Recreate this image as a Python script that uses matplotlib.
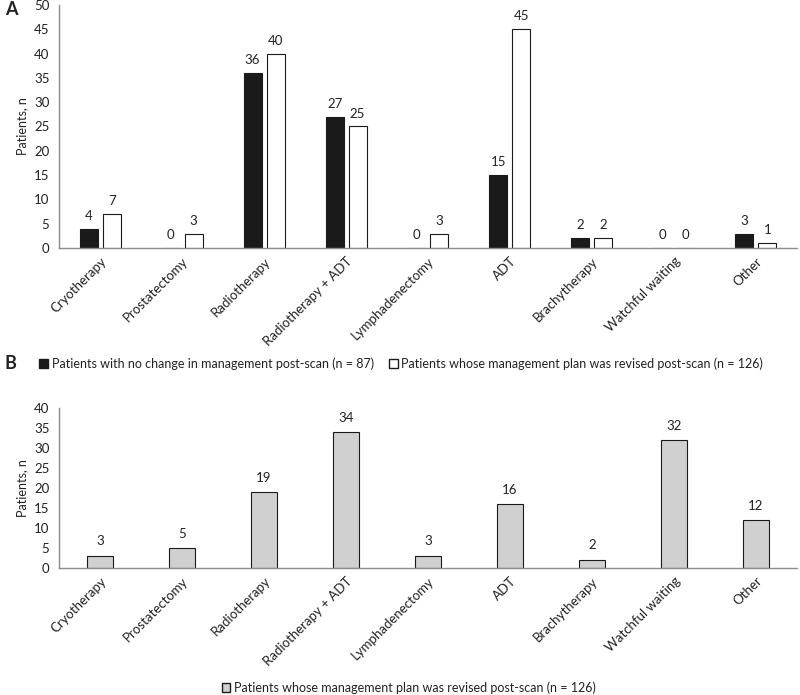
import matplotlib
matplotlib.use("Agg")
import matplotlib.pyplot as plt
from matplotlib.patches import Patch
import numpy as np

categories = ["Cryotherapy", "Prostatectomy", "Radiotherapy", "Radiotherapy + ADT",
              "Lymphadenectomy", "ADT", "Brachytherapy", "Watchful waiting", "Other"]
no_change = [4, 0, 36, 27, 0, 15, 2, 0, 3]
revised_a = [7, 3, 40, 25, 3, 45, 2, 0, 1]
revised_b = [3, 5, 19, 34, 3, 16, 2, 32, 12]

label_no_change = "Patients with no change in management post-scan (n = 87)"
label_revised = "Patients whose management plan was revised post-scan (n = 126)"

plt.rcParams['font.family'] = ['Lato', 'DejaVu Sans']
FS = 9.5
LFS = 9.0
TXT = "#222222"
SPINE = "#8c8c8c"

fig = plt.figure(figsize=(8, 6.95), dpi=100)
axA = fig.add_axes([0.074, 0.643, 0.922, 0.350])
axB = fig.add_axes([0.074, 0.183, 0.922, 0.230])

x = np.arange(len(categories))

def style(ax, ymax, step):
    ax.set_xlim(-0.5, len(categories) - 0.5)
    ax.set_ylim(0, ymax)
    ax.set_yticks(np.arange(0, ymax + 1, step))
    for s in ["top", "right"]:
        ax.spines[s].set_visible(False)
    for s in ["left", "bottom"]:
        ax.spines[s].set_color(SPINE)
        ax.spines[s].set_linewidth(1.0)
    ax.tick_params(axis="y", length=0, labelsize=FS, colors=TXT, pad=7)
    ax.tick_params(axis="x", length=0, labelsize=FS, colors=TXT, pad=5)
    ax.set_xticks(x)
    ax.set_xticklabels(categories, rotation=45, ha="right", rotation_mode="anchor",
                       fontsize=FS, color=TXT)
    ax.set_ylabel("Patients, n", fontsize=FS - 0.5, color=TXT, labelpad=4)

# Panel A
w = 0.22
off = 0.14
bA1 = axA.bar(x - off, no_change, w, color="#1a1a1a", edgecolor="#1a1a1a", linewidth=0.8)
bA2 = axA.bar(x + off, revised_a, w, color="white", edgecolor="#1a1a1a", linewidth=0.8)
style(axA, 50, 5)
for bars in (bA1, bA2):
    for b in bars:
        axA.annotate(f"{int(b.get_height())}", (b.get_x() + b.get_width() / 2, b.get_height()),
                     xytext=(0, 5), textcoords="offset points", ha="center", va="bottom",
                     fontsize=FS, color=TXT)

# Panel B
bB = axB.bar(x, revised_b, 0.32, color="#d0d0d0", edgecolor="#1a1a1a", linewidth=0.8)
style(axB, 40, 5)
for b in bB:
    axB.annotate(f"{int(b.get_height())}", (b.get_x() + b.get_width() / 2, b.get_height()),
                 xytext=(0, 6), textcoords="offset points", ha="center", va="bottom",
                 fontsize=FS, color=TXT)

# Legends
hA = [Patch(facecolor="#1a1a1a", edgecolor="#1a1a1a", label=label_no_change),
      Patch(facecolor="white", edgecolor="#1a1a1a", label=label_revised)]
fig.legend(handles=hA, loc="center left", bbox_to_anchor=(0.049, 0.477), ncol=2, frameon=False,
           fontsize=LFS, handlelength=0.7, handleheight=0.7, handletextpad=0.3,
           columnspacing=1.2, labelcolor=TXT, borderaxespad=0, borderpad=0)
hB = [Patch(facecolor="#d0d0d0", edgecolor="#1a1a1a", label=label_revised)]
fig.legend(handles=hB, loc="center", bbox_to_anchor=(0.511, 0.011), ncol=1, frameon=False,
           fontsize=LFS, handlelength=0.7, handleheight=0.7, handletextpad=0.3,
           labelcolor=TXT, borderpad=0)

fig.text(0.006, 0.987, "A", fontsize=13, fontweight="bold", color=TXT, va="center", ha="left")
fig.text(0.006, 0.477, "B", fontsize=13, fontweight="bold", color=TXT, va="center", ha="left")

fig.savefig("out.png", dpi=100)
